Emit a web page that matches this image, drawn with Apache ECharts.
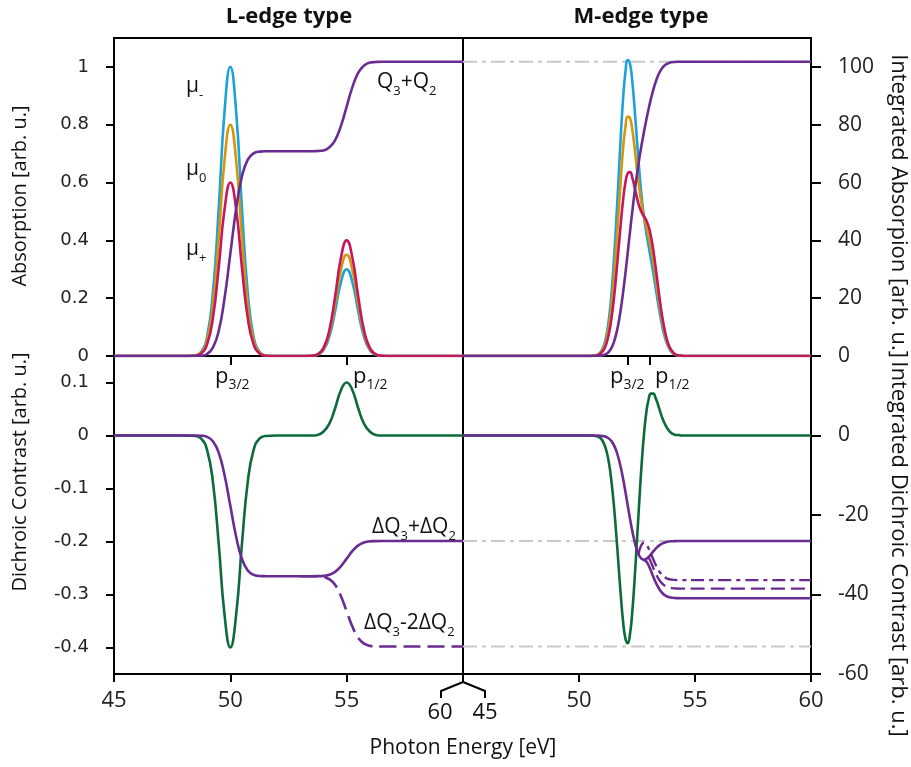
<!DOCTYPE html>
<html><head><meta charset="utf-8">
<script src="https://cdn.jsdelivr.net/npm/echarts@6/dist/echarts.min.js"></script>
<style>html,body{margin:0;padding:0;background:#fff}#c{width:911px;height:767px}</style>
</head><body><div id="c"></div>
<script>
// ---------- L-edge data ----------
const energyL = [45,47,48,48.5,48.75,49,49.25,49.5,49.75,50,50.25,50.5,50.75,51,51.25,51.5,52,53,53.5,53.75,54,54.25,54.5,54.75,55,55.25,55.5,55.75,56,56.25,56.5,57,60];
const muMinusL = [0,0,0,0.002,0.015,0.067,0.218,0.509,0.845,1,0.845,0.509,0.218,0.067,0.015,0.002,0,0,0.001,0.004,0.02,0.065,0.153,0.254,0.3,0.254,0.153,0.065,0.02,0.004,0.001,0,0];
const muZeroL  = [0,0,0,0.002,0.012,0.054,0.174,0.407,0.676,0.8,0.676,0.407,0.174,0.054,0.012,0.002,0,0,0.001,0.005,0.023,0.076,0.178,0.296,0.35,0.296,0.178,0.076,0.023,0.005,0.001,0,0];
const muPlusL  = [0,0,0,0.001,0.009,0.04,0.131,0.305,0.507,0.6,0.507,0.305,0.131,0.04,0.009,0.001,0,0,0.001,0.006,0.027,0.087,0.204,0.338,0.4,0.338,0.204,0.087,0.027,0.006,0.001,0,0];
const intAbsL  = [0,0,0,0.01,0.13,0.71,2.9,8.64,19.9,35.4,50.9,62.2,67.9,70.1,70.7,70.8,70.8,70.8,70.8,70.9,71.1,72.1,74.6,79.5,86.3,93.1,98.0,100.5,101.5,101.7,101.8,101.8,101.8];
const xmcdL    = [0,0,0,-0.001,-0.006,-0.027,-0.087,-0.204,-0.338,-0.4,-0.338,-0.204,-0.087,-0.027,-0.006,-0.001,0,0,0,0.001,0.007,0.022,0.051,0.085,0.1,0.085,0.051,0.022,0.007,0.001,0,0,0];
const dqSumL   = [0,0,0,-0.01,-0.06,-0.35,-1.45,-4.32,-9.95,-17.7,-25.45,-31.08,-33.95,-35.05,-35.33,-35.39,-35.4,-35.4,-35.4,-35.38,-35.31,-35.04,-34.32,-32.91,-30.98,-29.04,-27.63,-26.91,-26.64,-26.57,-26.55,-26.55,-26.55];
const dqDiffL  = [0,0,0,-0.01,-0.06,-0.35,-1.45,-4.32,-9.95,-17.7,-25.45,-31.08,-33.95,-35.05,-35.33,-35.39,-35.4,-35.4,-35.4,-35.43,-35.58,-36.13,-37.56,-40.37,-44.25,-48.13,-50.94,-52.37,-52.92,-53.06,-53.1,-53.1,-53.1];

// ---------- M-edge data ----------
const energyM = [45,50,50.5,50.6,50.7,50.8,50.9,51,51.1,51.2,51.3,51.4,51.5,51.6,51.7,51.8,51.9,52,52.1,52.2,52.3,52.4,52.5,52.6,52.7,52.8,52.9,53,53.1,53.2,53.3,53.4,53.5,53.6,53.7,53.8,53.9,54,54.1,54.2,54.3,54.4,54.5,55,60];
const muMinusM = [0,0,0,0.001,0.002,0.005,0.011,0.023,0.044,0.08,0.135,0.216,0.325,0.459,0.608,0.758,0.889,0.982,1.024,1.01,0.947,0.852,0.744,0.64,0.551,0.481,0.426,0.38,0.335,0.288,0.238,0.187,0.14,0.098,0.065,0.041,0.024,0.013,0.007,0.003,0.002,0.001,0,0,0];
const muZeroM  = [0,0,0,0.001,0.002,0.004,0.009,0.018,0.035,0.064,0.108,0.173,0.26,0.367,0.487,0.608,0.718,0.791,0.828,0.823,0.782,0.718,0.645,0.579,0.524,0.482,0.448,0.414,0.374,0.327,0.273,0.216,0.162,0.114,0.076,0.047,0.028,0.015,0.008,0.004,0.002,0.001,0,0,0];
const muPlusM  = [0,0,0,0.001,0.001,0.003,0.007,0.014,0.026,0.048,0.081,0.13,0.195,0.276,0.366,0.457,0.539,0.599,0.632,0.636,0.616,0.583,0.547,0.517,0.497,0.483,0.469,0.448,0.414,0.367,0.309,0.246,0.184,0.13,0.087,0.054,0.032,0.018,0.009,0.004,0.002,0.001,0,0,0];
const intAbsM  = [0,0,0,0.01,0.01,0.04,0.09,0.21,0.44,0.86,1.62,2.84,4.73,7.49,11.26,16.09,21.94,28.61,35.79,43.11,50.21,56.84,62.85,68.26,73.11,77.54,81.64,85.45,88.93,92.03,94.68,96.84,98.52,99.72,100.56,101.09,101.42,101.61,101.71,101.76,101.78,101.79,101.8,101.8,101.8];
const xmcdM    = [0,0,0,-0.0004,-0.0009,-0.002,-0.004,-0.009,-0.018,-0.032,-0.054,-0.087,-0.13,-0.183,-0.242,-0.301,-0.351,-0.383,-0.392,-0.374,-0.331,-0.269,-0.197,-0.123,-0.054,0.002,0.043,0.068,0.079,0.079,0.071,0.059,0.045,0.032,0.022,0.014,0.008,0.004,0.002,0.001,0.001,0,0,0,0];
const dqSumM   = [0,0,0,-0.004,-0.007,-0.02,-0.05,-0.11,-0.22,-0.43,-0.81,-1.42,-2.36,-3.74,-5.61,-8.01,-10.89,-14.15,-17.59,-20.99,-24.12,-26.79,-28.85,-30.26,-31.03,-31.25,-31.04,-30.54,-29.88,-29.17,-28.51,-27.93,-27.48,-27.14,-26.9,-26.75,-26.66,-26.61,-26.58,-26.56,-26.55,-26.55,-26.55,-26.55,-26.55];
// ΔQ3-2ΔQ2 variants (different split points)
const energySplitA = [52.57,52.6,52.7,52.8,52.9,53,53.1,53.2,53.3,53.4,53.5,53.6,53.7,53.8,53.9,54,54.2,54.4,55,60];
const dqDiffA      = [-29.83,-28.97,-27.43,-26.99,-27.41,-28.41,-29.73,-31.15,-32.47,-33.63,-34.53,-35.21,-35.69,-35.99,-36.17,-36.27,-36.37,-36.39,-36.39,-36.39];
const energySplitB = [53,53.1,53.2,53.3,53.4,53.5,53.6,53.7,53.8,53.9,54,54.2,54.4,55,60];
const dqDiffB      = [-30.54,-31.86,-33.28,-34.6,-35.76,-36.66,-37.34,-37.82,-38.12,-38.3,-38.4,-38.5,-38.52,-38.53,-38.53];
const energySplitC = [52.8,52.9,53,53.1,53.2,53.3,53.4,53.5,53.6,53.7,53.8,53.9,54,54.2,54.4,55,60];
const dqDiffC      = [-31.25,-31.67,-32.7,-34.05,-35.5,-36.85,-38.05,-38.98,-39.68,-40.18,-40.5,-40.7,-40.8,-40.92,-40.95,-40.95,-40.95];

// reference levels (gray dash-dot)
const refAbs = [101.8];
const refDichro = [-26.55, -53.1];
// peak positions (tick marks)
const peaksL = [50, 55];
const peaksM = [52.1, 53.05];
// tick labels
const absTicks = [0,0.2,0.4,0.6,0.8,1];
const intAbsTicks = [0,20,40,60,80,100];
const dichroTicks = [-0.4,-0.3,-0.2,-0.1,0,0.1];
const intDichroTicks = [-60,-40,-20,0];
const energyTicksL = [45,50,55];
const energyTicksM = [50,55,60];

const C_BLUE='#1ba3d9', C_ORANGE='#d6960c', C_CRIMSON='#c3175e', C_PURPLE='#6a2c91', C_GREEN='#0d6b3b', C_GRAY='#c8c8c8';
const FONT='Open Sans';
const zip=(xs,ys)=>xs.map((x,i)=>[x,ys[i]]);

const chart = echarts.init(document.getElementById('c'));

const gridStyle = {show:true, borderColor:'#000', borderWidth:2, backgroundColor:'transparent'};
const grids = [
  Object.assign({left:114, top:38, width:349, height:318}, gridStyle),
  Object.assign({left:463, top:38, width:348, height:318}, gridStyle),
  Object.assign({left:114, top:356, width:349, height:318}, gridStyle),
  Object.assign({left:463, top:356, width:348, height:318}, gridStyle)
];
const tickStyle = {color:'#000', width:2};
function xAx(g, extra){
  return Object.assign({type:'value', gridIndex:g, min:45, max:60, axisLine:{show:false, onZero:false}, splitLine:{show:false}, axisTick:{show:false}, axisLabel:{show:false}}, extra||{});
}
function yAx(g, pos, min, max, extra){
  return Object.assign({type:'value', gridIndex:g, position:pos, min, max, axisLine:{show:false, onZero:false}, splitLine:{show:false}, axisTick:{show:false}, axisLabel:{show:false}}, extra||{});
}
const xLabel = (vals)=>({show:true, customValues:vals, margin:16, fontSize:22, fontFamily:FONT, color:'#222'});
const xAxes = [
  xAx(0), xAx(1),
  xAx(2, {position:'bottom', axisTick:{show:true, length:8, customValues:[45,50,55], lineStyle:tickStyle}, axisLabel:xLabel(energyTicksL)}),
  xAx(3, {position:'bottom', axisTick:{show:true, length:8, customValues:energyTicksM, lineStyle:tickStyle}, axisLabel:xLabel(energyTicksM)}),
  xAx(2, {position:'top', axisTick:{show:true, inside:true, length:9, customValues:peaksL, lineStyle:tickStyle}}),
  xAx(3, {position:'top', axisTick:{show:true, inside:true, length:9, customValues:peaksM, lineStyle:tickStyle}})
];
const leftLabel = (vals)=>({show:true, customValues:vals, margin:25, fontSize:18, fontFamily:'DejaVu Sans', color:'#222'});
const rightLabel = (vals)=>({show:true, customValues:vals, margin:27, fontSize:21, fontFamily:FONT, color:'#222', align:'left'});
const yAxes = [
  yAx(0,'left',0,1.1,{axisTick:{show:true,length:8,customValues:absTicks,lineStyle:tickStyle}, axisLabel:leftLabel(absTicks)}),
  yAx(0,'right',0,110),
  yAx(1,'left',0,1.1),
  yAx(1,'right',0,110,{axisTick:{show:true,length:10,customValues:intAbsTicks,lineStyle:tickStyle}, axisLabel:rightLabel(intAbsTicks)}),
  yAx(2,'left',-0.45,0.15,{axisTick:{show:true,length:8,customValues:dichroTicks,lineStyle:tickStyle}, axisLabel:leftLabel(dichroTicks)}),
  yAx(2,'right',-60,20),
  yAx(3,'left',-0.45,0.15),
  yAx(3,'right',-60,20,{axisTick:{show:true,length:10,customValues:intDichroTicks,lineStyle:tickStyle}, axisLabel:rightLabel(intDichroTicks)})
];

function line(xi, yi, data, color, z, extra){
  return Object.assign({type:'line', xAxisIndex:xi, yAxisIndex:yi, data, symbol:'none', showSymbol:false,
    smooth:0.5, silent:true, animation:false, z,
    lineStyle:{color, width:2.6, cap:'butt'}, itemStyle:{color}}, extra||{});
}
const grayLine = (xi, yi, level)=>line(xi, yi, [[45,level],[60,level]], C_GRAY, 1, {smooth:false, lineStyle:{color:C_GRAY, width:2, type:[14,5,4,5]}});

const series = [
  // TL
  line(0,0,zip(energyL,muMinusL),C_BLUE,2),
  line(0,0,zip(energyL,muZeroL),C_ORANGE,3),
  line(0,0,zip(energyL,muPlusL),C_CRIMSON,4),
  line(0,1,zip(energyL,intAbsL),C_PURPLE,5),
  // TR
  grayLine(1,3,refAbs[0]),
  line(1,2,zip(energyM,muMinusM),C_BLUE,2),
  line(1,2,zip(energyM,muZeroM),C_ORANGE,3),
  line(1,2,zip(energyM,muPlusM),C_CRIMSON,4),
  line(1,3,zip(energyM,intAbsM),C_PURPLE,5),
  // BL
  line(2,4,zip(energyL,xmcdL),C_GREEN,2),
  line(2,5,zip(energyL,dqSumL),C_PURPLE,4),
  line(2,5,zip(energyL,dqDiffL).slice(17),C_PURPLE,4,{lineStyle:{color:C_PURPLE,width:2.6,type:[17,7]}}),
  // BR
  grayLine(3,7,refDichro[0]),
  grayLine(3,7,refDichro[1]),
  line(3,6,zip(energyM,xmcdM),C_GREEN,2),
  line(3,7,zip(energyM,dqSumM),C_PURPLE,4),
  line(3,7,zip(energySplitA,dqDiffA),C_PURPLE,4,{smooth:0.4,lineStyle:{color:C_PURPLE,width:2.4,type:[13,5,4,5]}}),
  line(3,7,zip(energySplitB,dqDiffB),C_PURPLE,4,{smooth:0.4,lineStyle:{color:C_PURPLE,width:2.4,type:[14,6]}}),
  line(3,7,zip(energySplitC,dqDiffC),C_PURPLE,4,{smooth:0.4})
];

chart.setOption({animation:false, grid:grids, xAxis:xAxes, yAxis:yAxes, series});

// ---------- annotations ----------
function txt(x, y, text, o){
  o = o||{};
  const st = {text, fontSize:o.size||20, fontFamily:o.family||FONT, fontWeight:o.weight||'normal', fill:'#111',
    align:o.align||'left', textAlign:o.align||'left', verticalAlign:'middle', textVerticalAlign:'middle'};
  if (o.rich) st.rich = o.rich;
  return {type:'text', x, y, rotation:o.rot||0, z:100, silent:true, style:st};
}
function sub(main, subSize, pad){
  return {m:{fontSize:main, fontFamily:FONT, fill:'#111', color:'#111', verticalAlign:'bottom', padding:[0,0,pad,0]},
          s:{fontSize:subSize, fontFamily:FONT, fill:'#111', color:'#111', verticalAlign:'bottom'}};
}
const r20 = sub(21, 13, 5);
const r22 = sub(22, 14, 5);
const pt = chart.convertToPixel({xAxisIndex:2, yAxisIndex:4}, [60, -0.45]);
const bx = pt[0], by = pt[1];
const graphics = [
  txt(289, 17, 'L-edge type', {size:22, weight:'bold', align:'center'}),
  txt(641, 17, 'M-edge type', {size:22, weight:'bold', align:'center'}),
  txt(20, 196, 'Absorption [arb. u.]', {size:20, align:'center', rot:Math.PI/2}),
  txt(20, 472, 'Dichroic Contrast [arb. u.]', {size:20, align:'center', rot:Math.PI/2}),
  txt(898, 206, 'Integrated Absorpion [arb. u.]', {size:22, align:'center', rot:-Math.PI/2}),
  txt(898, 549, 'Integrated Dichroic Contrast [arb. u.]', {size:22, align:'center', rot:-Math.PI/2}),
  txt(463, 748, 'Photon Energy [eV]', {size:21, align:'center'}),
  txt(186, 88.5, '{m|μ}{s|-}', {rich:r20}),
  txt(186, 171.5, '{m|μ}{s|0}', {rich:r20}),
  txt(186, 251.5, '{m|μ}{s|+}', {rich:r20}),
  txt(377, 84.5, '{m|Q}{s|3}{m|+Q}{s|2}', {rich:r20}),
  txt(372, 529.5, '{m|ΔQ}{s|3}{m|+ΔQ}{s|2}', {rich:r20}),
  txt(364, 625.5, '{m|ΔQ}{s|3}{m|-2ΔQ}{s|2}', {rich:r20}),
  txt(215, 379, '{m|p}{s|3/2}', {rich:r22}),
  txt(353, 379, '{m|p}{s|1/2}', {rich:r22}),
  txt(610, 379, '{m|p}{s|3/2}', {rich:r22}),
  txt(655, 379, '{m|p}{s|1/2}', {rich:r22}),
  {type:'polyline', z:100, silent:true, shape:{points:[[bx,by],[bx,by+8],[bx-22,by+17],[bx-22,by+24]]}, style:{stroke:'#000', lineWidth:2, fill:null}},
  {type:'polyline', z:100, silent:true, shape:{points:[[bx,by+8],[bx+22,by+17],[bx+22,by+24]]}, style:{stroke:'#000', lineWidth:2, fill:null}},
  txt(bx-23, by+39, '60', {size:22, align:'center'}),
  txt(bx+22, by+39, '45', {size:22, align:'center'})
];
chart.setOption({graphic:graphics});
</script>
</body></html>
